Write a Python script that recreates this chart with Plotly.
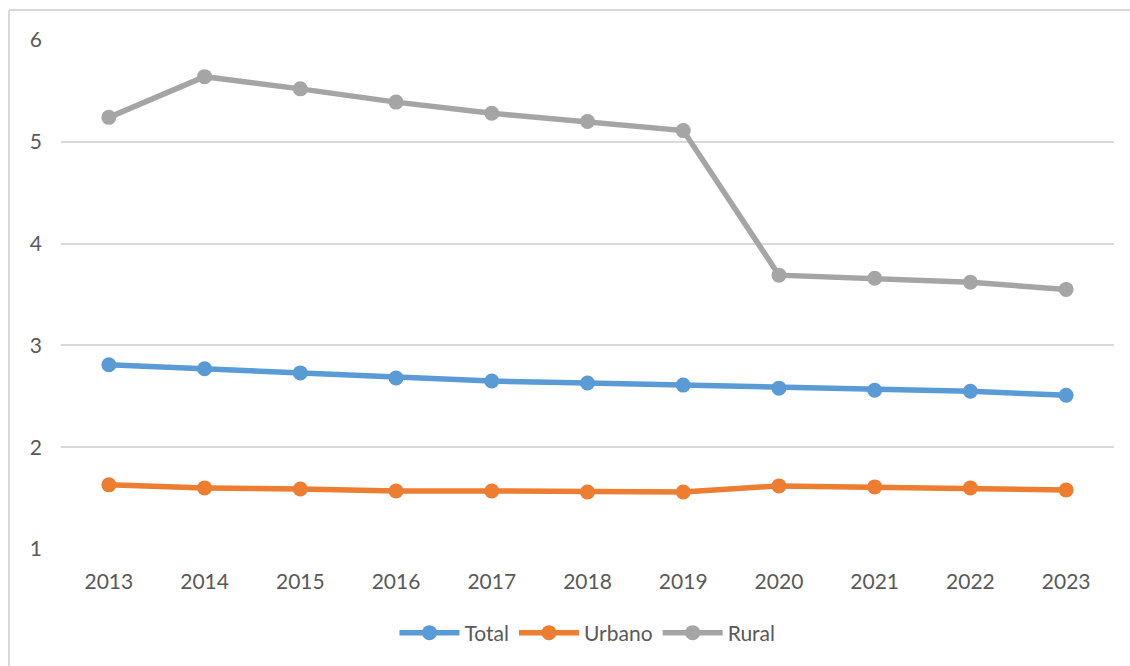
import plotly.graph_objects as go

years = ["2013", "2014", "2015", "2016", "2017", "2018", "2019", "2020", "2021", "2022", "2023"]
total = [2.81, 2.77, 2.73, 2.68, 2.65, 2.63, 2.61, 2.58, 2.56, 2.55, 2.51]
urbano = [1.63, 1.60, 1.59, 1.57, 1.57, 1.56, 1.56, 1.62, 1.61, 1.60, 1.58]
rural = [5.24, 5.64, 5.52, 5.39, 5.28, 5.20, 5.11, 3.69, 3.66, 3.62, 3.55]

series = [("Total", total, "#5B9BD5"), ("Urbano", urbano, "#ED7D31"), ("Rural", rural, "#A5A5A5")]

fig = go.Figure()
for name, vals, col in series:
    fig.add_trace(go.Scatter(x=years, y=vals, name=name, mode="lines+markers",
                             line=dict(color=col, width=5.5), marker=dict(color=col, size=15)))

# chart border: only top and left edges are visible in the reference
border = dict(color="#d9d9d9", width=2)
fig.add_shape(type="line", xref="paper", yref="paper", x0=-0.0494, x1=1.1, y0=1.059, y1=1.059,
              line=border, layer="below")
fig.add_shape(type="line", xref="paper", yref="paper", x0=-0.0494, x1=-0.0494, y0=-0.5, y1=1.059,
              line=border, layer="below")

fig.update_layout(
    width=1130, height=666,
    margin=dict(l=61, r=16, t=40, b=117),
    plot_bgcolor="white", paper_bgcolor="white",
    font=dict(family="Lato", size=21, color="#595959"),
    showlegend=True,
    legend=dict(orientation="h", x=0.5, xanchor="center", y=-0.165, yanchor="middle",
                font=dict(size=21, color="#595959"), itemwidth=60),
    xaxis=dict(type="category", range=[-0.5, 10.5], showgrid=False, showline=False,
               zeroline=False, ticks="", ticklabelstandoff=18),
    yaxis=dict(range=[1, 6], dtick=1, showgrid=True, gridcolor="#d9d9d9", gridwidth=2,
               zeroline=False, showline=False, ticks="", ticklabelstandoff=18),
)

# drop the default page margin so the figure sits flush in the window
fig.write_html("out.html", config={"displayModeBar": False},
               post_script="document.body.style.margin='0';document.documentElement.style.overflow='hidden';")
